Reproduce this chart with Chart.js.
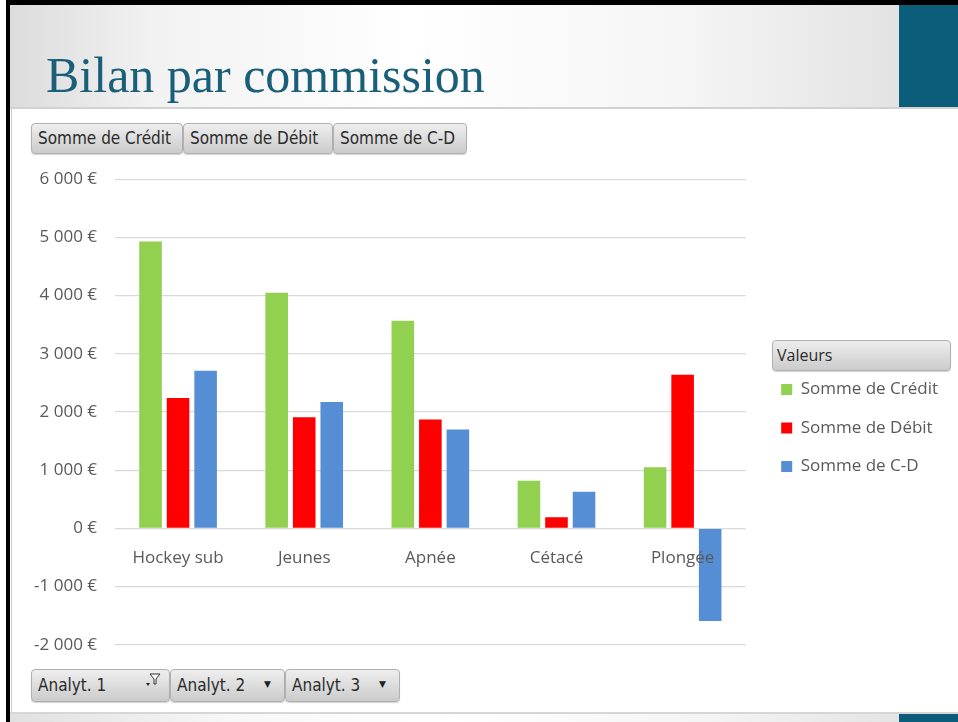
<!DOCTYPE html>
<html><head><meta charset="utf-8">
<script src="https://cdn.jsdelivr.net/npm/chart.js@4.4.1/dist/chart.umd.min.js"></script>
<style>
html,body{margin:0;padding:0;}
body{width:958px;height:722px;position:relative;overflow:hidden;background:#fff;font-family:"Open Sans",sans-serif;}
.abs{position:absolute;}
.btn{position:absolute;box-sizing:border-box;border:1px solid #b0b0b0;border-radius:4px;background:linear-gradient(#eeeeee,#cbcbcb);font-family:"Liberation Sans Narrow","DejaVu Sans Condensed",sans-serif;font-size:17px;color:#2b2b2b;padding-left:6px;white-space:nowrap;box-shadow:0 1px 1px rgba(0,0,0,0.18);}
.arr{position:absolute;font-size:9px;color:#222;font-family:"DejaVu Sans",sans-serif;}
</style></head>
<body>
<div class="abs" style="left:10px;top:5px;width:889px;height:102px;background:linear-gradient(90deg,#dcdcdc 0%,#f2f2f2 16%,#ffffff 45%,#f6f6f6 75%,#e3e3e3 100%);"></div>
<div class="abs" style="left:899px;top:5px;width:59px;height:102px;background:#0b5d79;"></div>
<div class="abs" style="left:6px;top:0px;width:952px;height:5px;background:#000;"></div>
<div class="abs" style="left:6px;top:0px;width:4px;height:722px;background:#000;"></div>
<div class="abs" style="left:10px;top:107px;width:948px;height:2px;background:#d2d2d2;"></div>
<div class="abs" style="left:11px;top:108px;width:1px;height:605px;background:#cdcdcd;"></div>
<div class="abs" style="left:10px;top:712px;width:948px;height:2px;background:#d6d6d6;"></div>
<div class="abs" style="left:10px;top:714px;width:889px;height:8px;background:linear-gradient(90deg,#e0e0e0 0%,#f7f7f7 25%,#ffffff 50%,#f3f3f3 80%,#e4e4e4 100%);"></div>
<div class="abs" style="left:899px;top:714px;width:59px;height:8px;background:#0b5d79;"></div>
<div class="abs" style="left:46px;top:50px;font-family:'Liberation Serif',serif;font-size:50px;line-height:50px;color:#1a5f7a;white-space:nowrap;">Bilan par commission</div>

<div class="btn" style="left:31px;top:123px;width:152px;height:31px;line-height:29px;">Somme de Crédit</div>
<div class="btn" style="left:183px;top:123px;width:150px;height:31px;line-height:29px;">Somme de Débit</div>
<div class="btn" style="left:333px;top:123px;width:134px;height:31px;line-height:29px;">Somme de C-D</div>

<div class="btn" style="left:772px;top:340px;width:179px;height:31px;line-height:29px;font-family:'Open Sans',sans-serif;font-size:16px;padding-left:4px;">Valeurs</div>

<div class="btn" style="left:31px;top:669px;width:139px;height:33px;line-height:31px;">Analyt. 1</div>
<svg class="abs" style="left:144px;top:673px;" width="18" height="16" viewBox="0 0 18 16"><path d="M6 1 L16 1 L12 6 L12 11 L10 11 L10 6 Z" fill="#fff" stroke="#333" stroke-width="1"/><path d="M2 10 L6 10 L4 13 Z" fill="#222"/></svg>
<div class="btn" style="left:170px;top:669px;width:115px;height:33px;line-height:31px;">Analyt. 2</div>
<div class="arr" style="left:264px;top:679px;">▼</div>
<div class="btn" style="left:285px;top:669px;width:115px;height:33px;line-height:31px;">Analyt. 3</div>
<div class="arr" style="left:379px;top:679px;">▼</div>

<canvas id="c" class="abs" style="left:12px;top:151px;" width="946" height="522"></canvas>
<script>
// ---- data ----
const categories = ['Hockey sub', 'Jeunes', 'Apnée', 'Cétacé', 'Plongée'];
const seriesNames = ['Somme de Crédit', 'Somme de Débit', 'Somme de C-D'];
const sommeCredit = [4930, 4050, 3570, 820, 1050];
const sommeDebit = [2240, 1910, 1870, 190, 2640];
const sommeCD = [2710, 2170, 1700, 630, -1590];
const yMin = -2000, yMax = 6000, yStep = 1000;
const seriesColors = ['#92D050', '#FF0000', '#558ED5'];

function euro(v) {
  const s = Math.abs(v).toString().replace(/\B(?=(\d{3})+(?!\d))/g, ' ');
  return (v < 0 ? '-' : '') + s + ' €';
}

// layout targets (canvas coordinates)
const CW = 946, CH = 522;
const chartLeft = 103, chartRight = 733;
const gapAxis = 14;
const legFont = 17, legBox = 11, legPad = 21.5;
const mctx = document.createElement('canvas').getContext('2d');
mctx.font = legFont + 'px "Open Sans"';
const maxText = Math.max(...seriesNames.map(t => mctx.measureText(t).width));
const legWidth = Math.ceil(legPad + legBox + legFont / 2 + maxText + 10);
const padRight = Math.max(0, CW - chartRight - gapAxis - legWidth);

const data = {
  labels: categories,
  datasets: [sommeCredit, sommeDebit, sommeCD].map((vals, i) => ({
    label: seriesNames[i],
    data: vals,
    backgroundColor: seriesColors[i],
    borderWidth: 0,
    categoryPercentage: 0.655,
    barPercentage: 0.82
  }))
};

new Chart(document.getElementById('c'), {
  type: 'bar',
  data,
  options: {
    responsive: false,
    animation: false,
    devicePixelRatio: 1,
    layout: { padding: { left: 0, top: 0, bottom: 0, right: padRight } },
    plugins: {
      tooltip: { enabled: false },
      legend: {
        position: 'right',
        fullSize: false,
        align: 'center',
        maxWidth: legWidth,
        title: { display: true, text: ' ', font: { size: 10 }, padding: { top: 10, bottom: 10 } },
        labels: {
          boxWidth: legBox, boxHeight: legBox, padding: legPad,
          color: '#595959',
          font: { family: 'Open Sans', size: legFont }
        }
      }
    },
    scales: {
      x: {
        position: { y: 0 },
        grid: { display: false },
        border: { display: false },
        ticks: { z: 1, color: '#595959', font: { family: 'Open Sans', size: 17 }, padding: 12, maxRotation: 0 }
      },
      y: {
        position: 'left',
        min: yMin, max: yMax,
        afterFit: s => { s.width = chartLeft; },
        grid: { color: '#d9d9d9', lineWidth: 1.3, drawTicks: false },
        border: { display: false },
        ticks: { stepSize: yStep, color: '#595959', font: { family: 'Open Sans', size: 17 }, padding: 18, callback: v => euro(v) }
      },
      gap: {
        position: 'right',
        display: true,
        grid: { display: false },
        border: { display: false },
        ticks: { display: false },
        afterFit: s => { s.width = gapAxis; }
      }
    }
  }
});
</script>
</body></html>
